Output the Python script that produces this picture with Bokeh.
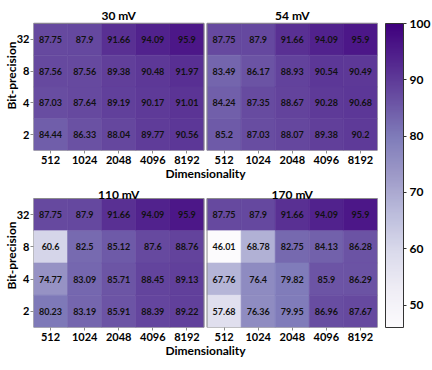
from bokeh.plotting import figure
from bokeh.models import (ColumnDataSource, LinearColorMapper, ColorBar, FixedTicker,
                          Range1d)
from bokeh.layouts import row, column
from bokeh.embed import file_html
from bokeh.resources import INLINE
from bokeh.core.properties import value

# ---------------- data ----------------
dims = ["512", "1024", "2048", "4096", "8192"]
bits = ["32", "8", "4", "2"]          # top row first
titles = ["30 mV", "54 mV", "110 mV", "170 mV"]

acc_30mV = [[87.75, 87.9, 91.66, 94.09, 95.9],
            [87.56, 87.56, 89.38, 90.48, 91.97],
            [87.03, 87.64, 89.19, 90.17, 91.01],
            [84.44, 86.33, 88.04, 89.77, 90.56]]
acc_54mV = [[87.75, 87.9, 91.66, 94.09, 95.9],
            [83.49, 86.17, 88.93, 90.54, 90.49],
            [84.24, 87.35, 88.67, 90.28, 90.68],
            [85.2, 87.03, 88.07, 89.38, 90.2]]
acc_110mV = [[87.75, 87.9, 91.66, 94.09, 95.9],
             [60.6, 82.5, 85.12, 87.6, 88.76],
             [74.77, 83.09, 85.71, 88.45, 89.13],
             [80.23, 83.19, 85.91, 88.39, 89.22]]
acc_170mV = [[87.75, 87.9, 91.66, 94.09, 95.9],
             [46.01, 68.78, 82.75, 84.13, 86.28],
             [67.76, 76.4, 79.82, 85.9, 86.29],
             [57.68, 76.36, 79.95, 86.96, 87.67]]
cbar_ticks = [50, 60, 70, 80, 90, 100]

# ---------------- styling ----------------
FONT = "Lato"
GAP = 0.09            # gap between the two panels of a row (in cell units)
SPINE = "#8c8c8c"

purples9 = ['#fcfbfd', '#efedf5', '#dadaeb', '#bcbddc', '#9e9ac8',
            '#807dba', '#6a51a3', '#54278f', '#3f007d']


def interp_palette(pal, n):
    rgb = [tuple(int(c[i:i + 2], 16) for i in (1, 3, 5)) for c in pal]
    out = []
    for k in range(n):
        t = k / (n - 1) * (len(rgb) - 1)
        i = min(int(t), len(rgb) - 2)
        f = t - i
        c = [round(rgb[i][j] + (rgb[i + 1][j] - rgb[i][j]) * f) for j in range(3)]
        out.append("#%02x%02x%02x" % tuple(c))
    return out


palette = interp_palette(purples9, 256)
all_vals = [v for acc in (acc_30mV, acc_54mV, acc_110mV, acc_170mV) for r in acc for v in r]
mapper = LinearColorMapper(palette=palette, low=min(all_vals), high=100)


def panel_source(acc, x0):
    xs, ys, vs, ts = [], [], [], []
    for r, b in enumerate(bits):
        for c, d in enumerate(dims):
            xs.append(x0 + c + 0.5)
            ys.append(len(bits) - 1 - r + 0.5)
            vs.append(acc[r][c])
            ts.append(f"{acc[r][c]:g}")
    return ColumnDataSource(dict(x=xs, y=ys, v=vs, t=ts))


def make_row(acc_l, acc_r, title_l, title_r, band, panel_h, bottom_b, title_gap):
    nd = len(dims)
    nb = len(bits)
    cell_h = panel_h / nb
    y_top = nb + band / cell_h
    p = figure(width=381, height=band + panel_h + bottom_b,
               x_range=Range1d(0, 2 * nd + GAP),
               y_range=Range1d(0, y_top), output_backend="svg",
               toolbar_location=None, min_border_left=26, min_border_right=4,
               min_border_top=0, min_border_bottom=bottom_b)
    p.outline_line_color = None
    p.grid.visible = False
    xticks = []
    xover = {}
    for x0, acc, ttl in ((0, acc_l, title_l), (nd + GAP, acc_r, title_r)):
        src = panel_source(acc, x0)
        cmap = {"field": "v", "transform": mapper}
        p.rect(x="x", y="y", width=1, height=1, source=src,
               fill_color=cmap, line_color=cmap, line_width=0.6)
        p.text(x="x", y="y", text="t", source=src, text_font=value(FONT),
               text_font_style="bold", text_font_size="9px", text_color="#111111",
               text_align="center", text_baseline="middle")
        p.quad(left=x0, right=x0 + nd, bottom=0, top=nb, fill_color=None,
               line_color=SPINE, line_width=1)
        p.text(x=[x0 + nd / 2], y=[nb + title_gap / cell_h], text=[ttl],
               text_font=value(FONT), text_font_style="bold",
               text_font_size="12px", text_align="center",
               text_baseline="alphabetic", text_color="black")
        for c, d in enumerate(dims):
            xticks.append(x0 + c + 0.5)
            xover[x0 + c + 0.5] = d
    yticks = [nb - 1 - r + 0.5 for r in range(nb)]
    p.xaxis.ticker = FixedTicker(ticks=xticks)
    p.xaxis.major_label_overrides = xover
    p.yaxis.ticker = FixedTicker(ticks=yticks)
    p.yaxis.major_label_overrides = {yt: b for yt, b in zip(yticks, bits)}
    for ax in (p.xaxis[0], p.yaxis[0]):
        ax.axis_line_color = None
        ax.major_tick_line_color = SPINE
        ax.major_tick_out = 3
        ax.major_tick_in = 0
        ax.minor_tick_line_color = None
        ax.major_label_text_font = FONT
        ax.major_label_text_font_style = "bold"
        ax.major_label_text_font_size = "11px"
        ax.major_label_text_color = "black"
        ax.major_label_standoff = 2
        ax.axis_label_text_font = FONT
        ax.axis_label_text_font_style = "bold"
        ax.axis_label_text_font_size = "12px"
        ax.axis_label_text_color = "black"
    p.xaxis.axis_label = "Dimensionality"
    p.xaxis.axis_label_standoff = -1
    p.yaxis.major_label_standoff = 1
    p.yaxis.axis_label = "Bit-precision"
    p.yaxis.axis_label_standoff = -5
    return p


top = make_row(acc_30mV, acc_54mV, titles[0], titles[1], 23, 128, 32, 8)
bottom = make_row(acc_110mV, acc_170mV, titles[2], titles[3], 15, 129, 36, 4)

total_h = top.height + bottom.height
cb_fig = figure(width=51, height=total_h, x_range=Range1d(0, 1), y_range=Range1d(0, 1),
                output_backend="svg", toolbar_location=None, min_border=0)
cb_fig.axis.visible = False
cb_fig.grid.visible = False
cb_fig.outline_line_color = None
cb = ColorBar(color_mapper=mapper, ticker=FixedTicker(ticks=cbar_ticks),
              width=18, height=304, location=(4, total_h - 327), padding=0, margin=0,
              bar_line_color="#333333", major_tick_line_color="#333333",
              major_tick_out=3, major_tick_in=0, label_standoff=3,
              major_label_text_font=FONT, major_label_text_font_style="bold",
              major_label_text_font_size="12px", major_label_text_color="black",
              background_fill_color=None)
cb_fig.add_layout(cb, "center")

layout = row(column(top, bottom), cb_fig)
open("out.html", "w").write(file_html(layout, INLINE))
